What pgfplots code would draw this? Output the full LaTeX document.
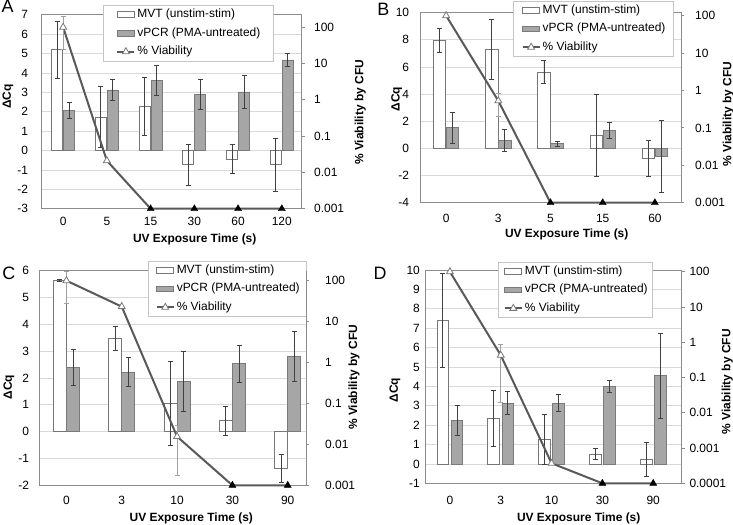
\documentclass[border=0pt]{standalone}
\usepackage{pgfplots}
\pgfplotsset{compat=1.18}
\usepackage{fontspec}
\setmainfont{Liberation Sans}
\definecolor{gridc}{HTML}{D9D9D9}
\definecolor{framec}{HTML}{8C8C8C}
\definecolor{mvtc}{HTML}{777777}
\definecolor{vfill}{HTML}{A6A6A6}
\definecolor{vdraw}{HTML}{7A7A7A}
\definecolor{errc}{HTML}{404040}
\definecolor{linec}{HTML}{595959}
\definecolor{legc}{HTML}{C4C4C4}
\definecolor{verrc}{HTML}{A0A0A0}
\pgfplotsset{
  leftax/.style={scale only axis, anchor=north west,
    /pgf/number format/assume math mode=true,
    ymajorgrids, grid style={gridc, line width=0.8bp},
    axis line style={framec, line width=0.8bp},
    major tick length=0pt,
    xticklabel style={anchor=base, inner sep=0pt},
    yticklabel style={anchor=east, inner sep=0pt},
    legend cell align=left,
    legend style={draw=legc, fill=white, line width=0.8bp, anchor=north west,
      inner ysep=3.3bp, row sep=6.5bp, column sep=2bp,
      nodes={inner sep=0pt, text height=9bp, text depth=3bp},
      font=\fontsize{12}{14}\selectfont}},
  rightax/.style={scale only axis, anchor=north west,
    axis x line=none, axis y line*=right,
    axis line style={framec, line width=0.8bp},
    tick align=outside, major tick length=3bp,
    ytick style={framec, line width=0.8bp},
    yminorticks=false,
    yticklabel style={anchor=west, inner sep=0pt},
    clip=false},
  mvt/.style={ybar, bar shift=0pt, fill=white, draw=mvtc, line width=0.8bp, forget plot,
    error bars/y dir=both, error bars/y explicit,
    error bars/error bar style={errc, line width=0.8bp},
    error bars/error mark options={errc, line width=0.8bp, mark size=2.5bp, rotate=90}},
  vpcr/.style={ybar, bar shift=0pt, fill=vfill, draw=vdraw, line width=0.8bp, forget plot,
    error bars/y dir=both, error bars/y explicit,
    error bars/error bar style={errc, line width=0.8bp},
    error bars/error mark options={errc, line width=0.8bp, mark size=2.5bp, rotate=90}},
  vline/.style={linec, line width=2bp, no markers, forget plot},
  verr/.style={draw=none, no markers, forget plot,
    error bars/y dir=both, error bars/y explicit,
    error bars/error bar style={verrc, line width=0.8bp},
    error bars/error mark options={verrc, line width=0.8bp, mark size=2.5bp, rotate=90}},
  vopen/.style={only marks, mark=triangle*, mark size=4bp, forget plot,
    mark options={fill=white, draw=mvtc, line width=0.8bp}},
  vfilled/.style={only marks, mark=triangle*, mark size=4bp, forget plot,
    mark options={fill=black, draw=black}},
}
\newcommand{\legentries}{%
  \addlegendimage{area legend, fill=white, draw=mvtc, line width=0.8bp}
  \addlegendentry{MVT (unstim-stim)}
  \addlegendimage{area legend, fill=vfill, draw=vdraw, line width=0.8bp}
  \addlegendentry{vPCR (PMA-untreated)}
  \addlegendimage{linec, line width=2bp, mark=triangle*, mark size=4bp, mark options={fill=white, draw=mvtc, line width=0.8bp}}
  \addlegendentry{\% Viability}}
\begin{document}
\fontsize{12}{14}\selectfont
\begin{tikzpicture}[font=\fontsize{12}{14}\selectfont]
\path[use as bounding box] (0,0) rectangle (733bp,-525bp);
% ---------------- Panel A ----------------
\begin{axis}[leftax, at={(41.7bp,-14.7bp)}, width=259.8bp, height=194bp,
  xmin=-0.49, xmax=5.45, ymin=-3, ymax=7, ytick={-3,...,7},
  xtick={0,...,5}, xticklabels={0,5,15,30,60,120},
  xticklabel style={yshift=-16.3bp}, yticklabel style={xshift=-13.4bp},
  legend style={at={(0.236,1.050)}, inner xsep=13bp}]
\legentries
\addplot[mvt, bar width=0.25] coordinates {
 (-0.137,5.19) +- (0,1.45) (0.863,1.72) +- (0,1.58) (1.863,2.29) +- (0,1.49)
 (2.863,-0.74) +- (0,1.07) (3.863,-0.45) +- (0,0.75) (4.863,-0.74) +- (0,1.37)};
\addplot[vpcr, bar width=0.25] coordinates {
 (0.137,2.07) +- (0,0.40) (1.137,3.12) +- (0,0.55) (2.137,3.60) +- (0,0.78)
 (3.137,2.90) +- (0,0.77) (4.137,3.02) +- (0,0.87) (5.137,4.67) +- (0,0.36)};
\end{axis}
\begin{axis}[ymode=log, rightax, at={(41.7bp,-14.7bp)}, width=259.8bp, height=194bp,
  xmin=-0.49, xmax=5.45, ymin=0.001, ymax=221,
  ytick={0.001,0.01,0.1,1,10,100}, yticklabels={0.001,0.01,0.1,1,10,100},
  yticklabel style={xshift=9.5bp}]
\addplot[vline] coordinates {(0,100) (1,0.021) (2,0.001) (3,0.001) (4,0.001) (5,0.001)};
\addplot[verr] coordinates {(0,100) += (0,96) -= (0,75)};
\addplot[vopen] coordinates {(0,100) (1,0.021)};
\addplot[vfilled] coordinates {(2,0.001) (3,0.001) (4,0.001) (5,0.001)};
\end{axis}
% ---------------- Panel B ----------------
\begin{axis}[leftax, at={(420bp,-12.7bp)}, width=261bp, height=190bp,
  xmin=-0.5, xmax=4.5, ymin=-4, ymax=10, ytick={-4,-2,...,10},
  xtick={0,...,4}, xticklabels={0,3,5,15,60},
  xticklabel style={yshift=-20bp}, yticklabel style={xshift=-10.7bp},
  legend style={at={(0.357,1.064)}, inner xsep=8bp}]
\legentries
\addplot[mvt, bar width=0.24] coordinates {
 (-0.125,7.96) +- (0,0.86) (0.875,7.30) +- (0,2.19) (1.875,5.63) +- (0,0.87)
 (2.875,0.98) +- (0,3.02) (3.875,-0.74) +- (0,1.30)};
\addplot[vpcr, bar width=0.24] coordinates {
 (0.125,1.52) +- (0,1.12) (1.125,0.59) +- (0,0.81) (2.125,0.34) +- (0,0.17)
 (3.125,1.31) +- (0,0.60) (4.125,-0.58) +- (0,2.64)};
\end{axis}
\begin{axis}[ymode=log, rightax, at={(420bp,-12.7bp)}, width=261bp, height=190bp,
  xmin=-0.5, xmax=4.5, ymin=0.001, ymax=120,
  ytick={0.001,0.01,0.1,1,10,100}, yticklabels={0.001,0.01,0.1,1,10,100},
  yticklabel style={xshift=11bp}]
\addplot[vline] coordinates {(0,100) (1,0.53) (2,0.001) (3,0.001) (4,0.001)};
\addplot[verr] coordinates {(1,0.53) +- (0,0.33)};
\addplot[vopen] coordinates {(0,100) (1,0.53)};
\addplot[vfilled] coordinates {(2,0.001) (3,0.001) (4,0.001)};
\end{axis}
% ---------------- Panel C ----------------
\begin{axis}[leftax, at={(39.3bp,-270.7bp)}, width=266.7bp, height=214.6bp,
  xmin=-0.49, xmax=4.33, ymin=-2, ymax=6, ytick={-2,...,6},
  xtick={0,...,4}, xticklabels={0,3,10,30,90},
  xticklabel style={yshift=-19.7bp}, yticklabel style={xshift=-10bp},
  legend style={at={(0.409,1.047)}, inner xsep=7bp}]
\legentries
\addplot[mvt, bar width=0.235] coordinates {
 (-0.12,5.64) +- (0,0.05) (0.88,3.49) +- (0,0.45) (1.88,1.05) +- (0,1.58)
 (2.88,0.41) +- (0,0.54) (3.88,-1.37) +- (0,0.53)};
\addplot[vpcr, bar width=0.235] coordinates {
 (0.12,2.40) +- (0,0.67) (1.12,2.22) +- (0,0.55) (2.12,1.88) +- (0,1.13)
 (3.12,2.53) +- (0,0.69) (4.12,2.82) +- (0,0.93)};
\end{axis}
\begin{axis}[ymode=log, rightax, at={(39.3bp,-270.7bp)}, width=266.7bp, height=214.6bp,
  xmin=-0.49, xmax=4.33, ymin=0.001, ymax=175,
  ytick={0.001,0.01,0.1,1,10,100}, yticklabels={0.001,0.01,0.1,1,10,100},
  yticklabel style={xshift=16bp}]
\addplot[vline] coordinates {(0,100) (1,23.2) (2,0.0155) (3,0.001) (4,0.001)};
\addplot[verr] coordinates {(0,100) +- (0,72) (2,0.0155) +- (0,0.0138)};
\addplot[vopen] coordinates {(0,100) (1,23.2) (2,0.0155)};
\addplot[vfilled] coordinates {(3,0.001) (4,0.001)};
\end{axis}
% ---------------- Panel D ----------------
\begin{axis}[leftax, at={(425bp,-270bp)}, width=256.7bp, height=213.3bp,
  xmin=-0.49, xmax=4.56, ymin=-1, ymax=10, ytick={-1,...,10},
  xtick={0,...,4}, xticklabels={0,3,10,30,90},
  xticklabel style={yshift=-21bp}, yticklabel style={xshift=-5bp},
  legend style={at={(0.286,1.039)}, inner xsep=5bp}]
\legentries
\addplot[mvt, bar width=0.23] coordinates {
 (-0.14,7.41) +- (0,2.44) (0.86,2.35) +- (0,1.45) (1.86,1.24) +- (0,1.29)
 (2.86,0.50) +- (0,0.29) (3.86,0.24) +- (0,0.86)};
\addplot[vpcr, bar width=0.23] coordinates {
 (0.14,2.25) +- (0,0.79) (1.14,3.14) +- (0,0.58) (2.14,3.14) +- (0,0.44)
 (3.14,4.00) +- (0,0.33) (4.14,4.54) +- (0,2.17)};
\end{axis}
\begin{axis}[ymode=log, rightax, at={(425bp,-270bp)}, width=256.7bp, height=213.3bp,
  xmin=-0.49, xmax=4.56, ymin=0.0001, ymax=112,
  ytick={0.0001,0.001,0.01,0.1,1,10,100}, yticklabels={0.0001,0.001,0.01,0.1,1,10,100},
  yticklabel style={xshift=4.6bp}]
\addplot[vline] coordinates {(0,100) (1,0.43) (2,0.00037) (3,0.0001) (4,0.0001)};
\addplot[verr] coordinates {(1,0.43) += (0,0.44) -= (0,0.41)};
\addplot[vopen] coordinates {(0,100) (1,0.43) (2,0.00037)};
\addplot[vfilled] coordinates {(3,0.0001) (4,0.0001)};
\end{axis}
% ---------------- labels ----------------
\begin{scope}[every node/.style={font=\fontsize{12}{14}\selectfont\bfseries}]
\node[rotate=90] at (8bp,-96.7bp) {ΔCq};
\node[rotate=90] at (360.3bp,-112.4bp) {\% Viability by CFU};
\node[anchor=base] at (194.7bp,-242.3bp) {UV Exposure Time (s)};
\node[rotate=90] at (396.7bp,-99bp) {ΔCq};
\node[rotate=90] at (728.3bp,-114bp) {\% Viability by CFU};
\node[anchor=base] at (566.7bp,-237.3bp) {UV Exposure Time (s)};
\node[rotate=90] at (9bp,-387bp) {ΔCq};
\node[rotate=90] at (354bp,-377.4bp) {\% Viability by CFU};
\node[anchor=base] at (191.3bp,-521.7bp) {UV Exposure Time (s)};
\node[rotate=90] at (395bp,-390bp) {ΔCq};
\node[rotate=90] at (727.3bp,-381.7bp) {\% Viability by CFU};
\node[anchor=base] at (578.7bp,-521bp) {UV Exposure Time (s)};
\end{scope}
\begin{scope}[every node/.style={font=\fontsize{18}{20}\selectfont, inner sep=0pt}]
\node at (7.5bp,-6.5bp) {A};
\node at (383.3bp,-9.7bp) {B};
\node at (8.8bp,-273bp) {C};
\node at (380bp,-273bp) {D};
\end{scope}
\end{tikzpicture}
\end{document}
